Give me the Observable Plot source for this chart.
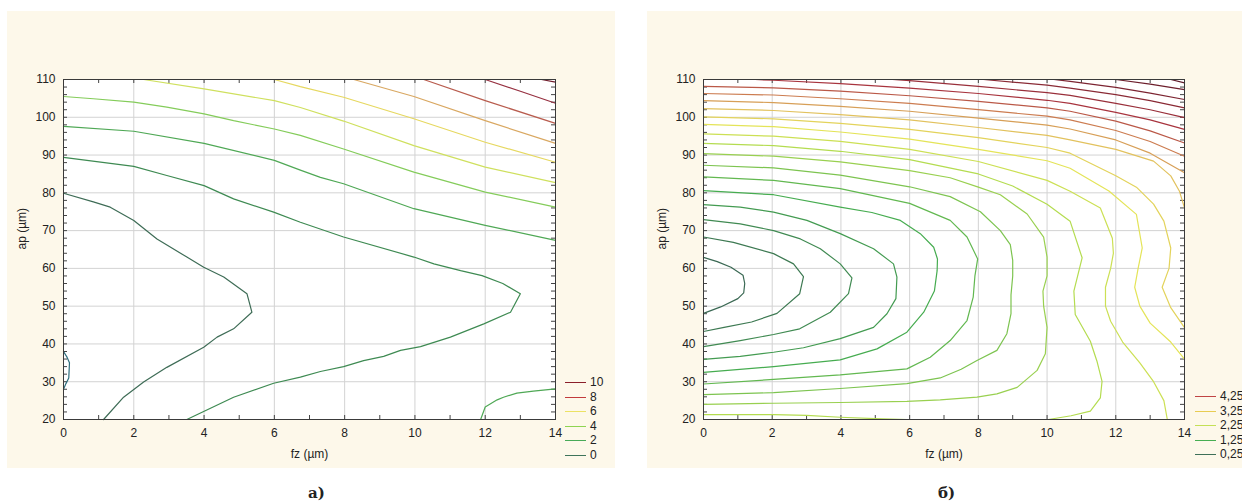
<!DOCTYPE html>
<html><head><meta charset="utf-8">
<script src="https://cdn.jsdelivr.net/npm/d3@7"></script>
<script src="https://cdn.jsdelivr.net/npm/@observablehq/plot@0.6"></script>
<style>
body{margin:0;background:#fff;width:1242px;height:504px;overflow:hidden;position:relative;font-family:"Liberation Sans",Arial,sans-serif}
.panel{position:absolute;top:11px;height:457px;background:#fdf8ea}
.panel svg{position:absolute;left:0;top:0;overflow:visible}
.lg{position:absolute;height:14px;width:60px;font-size:12px;line-height:14px;color:#222;white-space:nowrap}
.lg span{position:absolute;left:0;top:7px;width:21px;height:1px}
.lg b{position:absolute;left:25px;top:0;font-weight:normal}
.cap{position:absolute;top:486px;font:bold 15px/15px "DejaVu Serif",serif;color:#222}
</style></head><body>
<div id="pa" class="panel" style="left:7px;width:608px"></div>
<div id="pb" class="panel" style="left:647px;width:595px"></div>
<div class="cap" style="left:308px">а)</div>
<div class="cap" style="left:938px">б)</div>
<script>
// ---- axes ----
const xTicks = [0, 2, 4, 6, 8, 10, 12, 14];
const yTicks = [20, 30, 40, 50, 60, 70, 80, 90, 100, 110];
const xMinor = [1, 2, 3, 4, 5, 6, 7, 8, 9, 10, 11, 12, 13];
const yMinor = [22, 24, 26, 28, 30, 32, 34, 36, 38, 40, 42, 44, 46, 48, 50, 52, 54, 56, 58, 60, 62, 64, 66, 68, 70, 72, 74, 76, 78, 80, 82, 84, 86, 88, 90, 92, 94, 96, 98, 100, 102, 104, 106, 108];

// ---- chart a) contour lines [fz, ap] ----
const a_m1 = [[0,38.0],[0.1,36.5],[0.17,35.0],[0.15,31.0],[0.07,29.5],[0,28.0]];
const a_0 = [[0,79.9],[0.85,77.6],[1.33,76.2],[2.0,72.7],[2.66,67.8],[3.51,63.0],[3.99,60.3],[4.56,57.7],[5.22,53.3],[5.36,48.4],[4.84,44.0],[4.37,41.8],[3.99,39.1],[2.94,33.8],[2.28,29.9],[1.71,25.9],[1.14,20.0]];
const a_1 = [[0,89.4],[2.0,87.0],[2.94,84.6],[4.0,81.9],[4.84,78.4],[5.98,74.9],[6.74,72.2],[7.97,68.3],[9.97,63.0],[10.54,61.2],[11.3,59.4],[11.91,58.1],[12.5,56.0],[13.0,53.3],[12.72,48.4],[11.96,45.3],[11.01,41.8],[10.16,39.3],[9.59,38.3],[9.11,36.7],[8.54,35.6],[7.97,34.0],[7.31,32.7],[6.74,31.2],[5.98,29.6],[4.84,25.9],[3.51,20.0]];
const a_2 = [[0,97.6],[2.0,96.3],[4.0,93.1],[6.0,88.6],[6.74,86.0],[7.31,84.1],[7.97,82.4],[9.97,75.8],[12.0,71.4],[14,67.4]];
const a_2b = [[11.87,20.0],[12.0,23.3],[12.34,25.2],[12.52,25.9],[12.9,27.0],[13.37,27.5],[14,28.1]];
const a_3 = [[0,105.5],[0.85,104.9],[2.0,104.0],[2.94,102.7],[4.0,100.9],[4.84,99.1],[6.0,96.9],[6.74,95.2],[7.97,91.6],[9.97,85.5],[12.0,80.2],[14,76.2]];
const a_4 = [[2.28,110],[4.0,107.5],[6.0,104.4],[6.74,102.6],[7.97,99.0],[9.97,92.5],[12.0,86.8],[14,82.7]];
const a_5 = [[6.0,110],[6.74,108.1],[7.97,105.3],[9.97,99.6],[12.0,93.4],[14,88.1]];
const a_6 = [[8.26,110],[9.97,105.5],[12.0,99.1],[14,93.1]];
const a_7 = [[10.25,110],[12.0,104.4],[14,98.4]];
const a_8 = [[12.0,110],[13.0,106.9],[14,103.7]];
const a_9 = [[13.6,110],[14,109.3]];
const aSeries = [[-1,a_m1],[0,a_0],[1,a_1],[2,a_2],[2,a_2b],[3,a_3],[4,a_4],[5,a_5],[6,a_6],[7,a_7],[8,a_8],[9,a_9]];
const aLevels = [-1, 0, 1, 2, 3, 4, 5, 6, 7, 8, 9];
const aColors = ["#2f6e7c","#3e6c56","#3e8a52","#4fa855","#84cc5a","#cfe05e","#e6d860","#d9a862","#b85c4e","#963040","#701e2c"];
const aLegend = ["10","8","6","4","2","0"];
const aLegendColors = ["#8a1f2a","#c23a3c","#ece264","#8ed452","#48aa58","#3e745a"];

// ---- chart б) contour lines [fz, ap] ----
const b025 = [[0,48.1],[0.5,49.8],[1.0,52.0],[1.17,53.5],[1.2,56.0],[1.15,58.2],[0.8,60.3],[0.4,61.8],[0,62.9]];
const b050 = [[0,43.3],[0.6,44.4],[1.4,45.8],[2.14,48.1],[2.8,53.3],[2.91,57.8],[2.62,61.2],[2.04,63.9],[0.87,66.9],[0,68.3]];
const b075 = [[0,39.3],[1.07,40.9],[2.04,42.5],[2.8,44.0],[3.69,48.4],[4.22,53.3],[4.32,57.5],[3.98,61.2],[3.4,65.2],[2.82,67.8],[2.04,70.0],[1.07,71.8],[0,72.9]];
const b100 = [[0,35.9],[1.07,36.7],[2.04,37.8],[2.91,39.0],[3.98,41.4],[4.95,44.4],[5.34,48.0],[5.6,52.0],[5.63,57.7],[5.53,61.2],[4.95,65.2],[3.98,69.2],[3.01,72.7],[2.04,74.9],[1.07,76.2],[0,76.9]];
const b125 = [[0,32.5],[2.04,34.0],[3.98,35.8],[5.05,38.7],[5.92,43.1],[6.41,48.4],[6.72,54.0],[6.8,59.4],[6.81,62.5],[6.7,65.6],[6.31,69.2],[5.73,72.7],[4.9,74.8],[3.98,76.2],[2.04,79.5],[0,80.6]];
const b150 = [[0,29.4],[2.04,30.6],[3.98,31.8],[5.92,33.4],[6.6,36.5],[7.18,40.9],[7.67,46.2],[7.85,52.4],[7.9,58.0],[7.98,62.5],[7.67,68.3],[7.18,72.7],[6.0,77.2],[3.98,81.1],[2.04,83.3],[0,84.2]];
const b175 = [[0,26.6],[2.04,27.1],[3.98,28.2],[5.92,29.5],[6.89,31.0],[7.5,33.3],[7.96,35.6],[8.54,38.3],[8.83,42.7],[8.95,48.0],[8.95,53.0],[9.0,58.0],[9.0,62.1],[8.93,66.3],[8.64,70.0],[8.06,75.0],[7.18,79.0],[6.0,81.6],[3.98,84.7],[2.04,86.6],[0,87.3]];
const b200 = [[0,24.0],[2.04,24.3],[3.98,24.5],[5.92,24.8],[6.89,25.2],[7.96,25.9],[8.54,26.8],[9.13,28.5],[9.71,33.0],[9.95,37.4],[10.0,44.4],[9.9,50.0],[9.88,54.0],[10.0,58.0],[10.0,63.0],[9.9,68.3],[9.42,74.4],[8.64,79.5],[8.0,81.5],[7.18,84.0],[6.0,85.9],[3.98,88.2],[2.04,89.7],[0,90.4]];
const b225a = [[0,21.3],[2.04,21.3],[3.0,21.1],[3.98,20.6],[5.0,20.25],[5.92,20.0]];
const b225b = [[10.04,20.0],[10.7,21.0],[11.26,22.2],[11.55,25.7],[11.6,30.1],[11.45,35.5],[11.26,40.7],[10.82,47.8],[10.78,54.0],[11.02,62.8],[10.67,72.5],[10.0,77.0],[9.0,81.8],[8.0,85.0],[6.0,88.8],[3.98,91.0],[2.04,92.5],[0,93.1]];
const b250 = [[13.5,20.0],[13.4,25.0],[13.1,30.0],[12.7,35.0],[12.2,40.5],[11.85,46.0],[11.7,50.0],[11.7,55.0],[11.85,60.0],[11.93,64.0],[11.9,68.0],[11.55,76.0],[10.67,80.4],[10.0,83.3],[8.0,88.3],[6.0,91.5],[3.98,93.6],[2.04,95.0],[0,95.6]];
const b275 = [[14,36.0],[13.6,40.5],[13.0,45.5],[12.7,50.0],[12.55,55.0],[12.65,60.0],[12.77,65.4],[12.6,74.3],[11.8,80.5],[10.67,86.5],[10.0,88.5],[8.0,91.5],[6.0,94.2],[3.98,96.1],[2.04,97.5],[0,98.1]];
const b300 = [[14,44.3],[13.6,49.6],[13.35,55.0],[13.55,60.0],[13.6,65.4],[13.4,72.5],[13.1,77.0],[12.6,81.5],[12.0,84.5],[10.67,90.5],[10.0,92.0],[8.0,94.6],[6.0,96.8],[3.98,98.4],[2.04,99.6],[0,100.1]];
const b325 = [[0,102.3],[2.04,101.8],[3.98,100.7],[6.0,99.3],[8.0,97.3],[10.0,95.2],[10.67,94.0],[12.0,91.5],[13.1,88.4],[13.6,84.5],[13.85,80.5],[14,76.0]];
const b350 = [[0,104.4],[2.04,103.9],[3.98,102.9],[6.0,101.6],[8.0,99.8],[10.0,97.9],[10.67,96.9],[12.0,94.0],[13.0,90.5],[14,85.3]];
const b375 = [[0,106.3],[2.04,105.9],[3.98,104.9],[6.0,103.7],[8.0,102.0],[10.0,100.3],[10.67,99.3],[12.0,96.5],[13.0,93.6],[14,89.7]];
const b400 = [[0,108.2],[2.04,107.8],[3.98,106.9],[6.0,105.7],[8.0,104.2],[10.0,102.5],[10.67,101.6],[12.0,99.0],[13.0,96.4],[14,93.2]];
const b425 = [[1.5,110],[2.04,109.8],[3.98,108.9],[6.0,107.7],[8.0,106.3],[10.0,104.5],[10.67,103.7],[12.0,101.3],[13.0,99.3],[14,96.8]];
const b450 = [[5.5,110],[6.0,109.7],[8.0,108.2],[10.0,106.5],[10.67,105.8],[12.0,103.7],[13.0,102.0],[14,99.9]];
const b475 = [[8.15,110],[10.0,108.5],[10.67,107.7],[12.0,106.0],[13.0,104.4],[14,102.5]];
const b500 = [[10.2,110],[10.67,109.5],[12.0,107.9],[13.0,106.4],[14,104.7]];
const b525 = [[12.0,110],[13.0,108.8],[14,107.3]];
const b550 = [[13.6,110],[14,109.1]];
const bSeries = [[0.25,b025],[0.5,b050],[0.75,b075],[1.0,b100],[1.25,b125],[1.5,b150],[1.75,b175],[2.0,b200],[2.25,b225a],[2.25,b225b],[2.5,b250],[2.75,b275],[3.0,b300],[3.25,b325],[3.5,b350],[3.75,b375],[4.0,b400],[4.25,b425],[4.5,b450],[4.75,b475],[5.0,b500],[5.25,b525],[5.5,b550]];
const bLevels = [0.25, 1.25, 2.25, 2.75, 3.25, 3.75, 4.25, 5.5];
const bColors = ["#3a6853","#46ac50","#b4dc50","#e4e458","#e2c25e","#cc7c50","#a8343e","#5e1a28"];
const bLegend = ["4,25","3,25","2,25","1,25","0,25"];
const bLegendColors = ["#c04444","#e8cc52","#c4e056","#46ae52","#3e7058"];

function chart(series, levels, colors, W, H, ml, mr, mt, mb) {
  const rows = series.flatMap(([level, pts], i) => pts.map(([x, y]) => ({x, y, level, id: i})));
  const tx = 14 * 4 / (W - ml - mr), ty = 90 * 4 / (H - mt - mb);
  const tick = {stroke: "#444", strokeWidth: 1};
  return Plot.plot({
    width: W, height: H, marginLeft: ml, marginRight: mr, marginTop: mt, marginBottom: mb,
    style: {fontFamily: "Liberation Sans, Arial, sans-serif", fontSize: "12px", color: "#222", background: "transparent", overflow: "visible"},
    x: {domain: [0, 14], ticks: xTicks, tickSize: 0, tickPadding: 9, tickFormat: d => String(d), label: null},
    y: {domain: [20, 110], ticks: yTicks, tickSize: 0, tickPadding: 8, tickFormat: d => String(d), label: null},
    color: {type: "linear", domain: levels, range: colors},
    marks: [
      Plot.frame({fill: "white"}),
      Plot.ruleX(xTicks.slice(1, -1), {stroke: "#d3d3d3", strokeWidth: 1}),
      Plot.ruleY(yTicks.slice(1, -1), {stroke: "#d3d3d3", strokeWidth: 1}),
      Plot.ruleX(xMinor, {x: d => d, y1: 20, y2: 20 + ty, ...tick}),
      Plot.ruleX(xMinor, {x: d => d, y1: 110 - ty, y2: 110, ...tick}),
      Plot.ruleY(yMinor, {y: d => d, x1: 0, x2: tx, ...tick}),
      Plot.ruleY(yMinor, {y: d => d, x1: 14 - tx, x2: 14, ...tick}),
      Plot.line(rows, {x: "x", y: "y", z: "id", stroke: "level", strokeWidth: 1.2}),
      Plot.frame({stroke: "#3a3a3a", strokeWidth: 1}),
      Plot.text(["fz (µm)"], {frameAnchor: "bottom", dy: 38, text: d => d, fill: "#222", fontSize: 12}),
      Plot.text(["ap (µm)"], {frameAnchor: "left", dx: -41, rotate: -90, text: d => d, fill: "#222", fontSize: 12})
    ]
  });
}

document.getElementById("pa").append(chart(aSeries, aLevels, aColors, 608, 457, 56, 60, 68, 49));
document.getElementById("pb").append(chart(bSeries, bLevels, bColors, 595, 457, 56, 58, 68, 49));

function legend(labels, cols, left, top0, step) {
  labels.forEach((t, i) => {
    const d = document.createElement("div");
    d.className = "lg";
    d.style.left = left + "px";
    d.style.top = Math.round(top0 + i * step - 7) + "px";
    const sw = document.createElement("span");
    sw.style.background = cols[i];
    const tx = document.createElement("b");
    tx.textContent = t;
    d.append(sw, tx);
    document.body.append(d);
  });
}
legend(aLegend, aLegendColors, 565, 382, 14.5);
legend(bLegend, bLegendColors, 1195, 396, 14.5);
</script>
</body></html>
